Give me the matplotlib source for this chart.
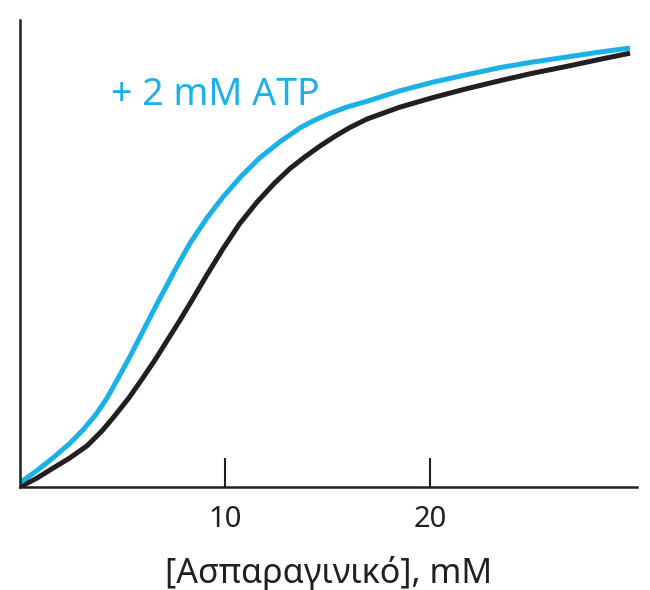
import matplotlib
matplotlib.use("Agg")
import matplotlib.pyplot as plt

# values (x in mM, y as % of the axis height)
asp_black = [0.0, 0.8, 1.61, 2.4, 3.27, 4.0, 4.54, 5.3, 6.0, 6.6, 7.17, 7.8, 8.39, 9.1, 9.9,
             10.7, 11.56, 12.4, 13.17, 13.9, 14.63, 15.4, 16.1, 16.93, 18.5, 20.15, 21.8,
             23.4, 25.0, 26.7, 28.2, 29.76]
rate_black = [0.0, 1.8, 4.0, 6.1, 8.8, 12.0, 14.8, 19.0, 23.4, 27.3, 31.3, 35.7, 40.0, 45.3, 51.0,
              56.3, 61.0, 65.0, 68.2, 70.7, 73.0, 75.2, 77.0, 78.8, 81.3, 83.4, 85.3,
              87.0, 88.6, 90.1, 91.5, 92.9]

asp_blue = [0.0, 0.8, 1.61, 2.4, 3.07, 3.7, 4.24, 4.8, 5.37, 6.0, 6.68, 7.5, 8.29, 9.1, 9.9,
            10.8, 11.7, 12.7, 13.66, 14.3, 15.0, 15.9, 16.93, 18.5, 20.15, 21.8, 23.4, 25.0,
            26.7, 28.2, 29.76]
rate_blue = [0.9, 3.4, 6.2, 9.2, 12.2, 15.5, 19.0, 23.4, 28.0, 33.4, 39.2, 46.0, 52.2, 57.5, 62.1,
             66.6, 70.5, 74.0, 76.9, 78.4, 79.8, 81.3, 82.6, 84.8, 86.7, 88.3, 89.8, 91.0,
             92.1, 93.1, 94.0]

tick_vals = [10, 20]
tick_labels = ["10", "20"]

BLUE = "#1AB1E6"
BLACK = "#231F20"
FONT = ["Noto Sans", "DejaVu Sans"]

fig = plt.figure(figsize=(6.5, 5.9), dpi=100)
ax = fig.add_axes([0.031, 0.175, 0.949, 0.791])

ax.plot(asp_black, rate_black, color=BLACK, lw=3.6, solid_capstyle="butt", solid_joinstyle="round")
ax.plot(asp_blue, rate_blue, color=BLUE, lw=3.6, solid_capstyle="butt", solid_joinstyle="round")

ax.text(4.45, 84.0, "+ 2 mM ATP", color=BLUE, fontsize=27, family=FONT, va="center", ha="left")

ax.set_xlim(0, 30.1)
ax.set_ylim(0, 100)
for side in ["top", "right"]:
    ax.spines[side].set_visible(False)
for side in ["left", "bottom"]:
    ax.spines[side].set_linewidth(1.8)
    ax.spines[side].set_color(BLACK)

ax.set_yticks([])
ax.set_xticks(tick_vals)
ax.set_xticklabels(tick_labels, family=FONT, fontsize=21, color=BLACK)
ax.tick_params(axis="x", direction="in", length=21, width=1.5, color=BLACK, pad=13)
ax.set_xlabel("[Ασπαραγινικό], mM", family=FONT, fontsize=24.5, color=BLACK, labelpad=16)

fig.savefig("out.png", dpi=100)
